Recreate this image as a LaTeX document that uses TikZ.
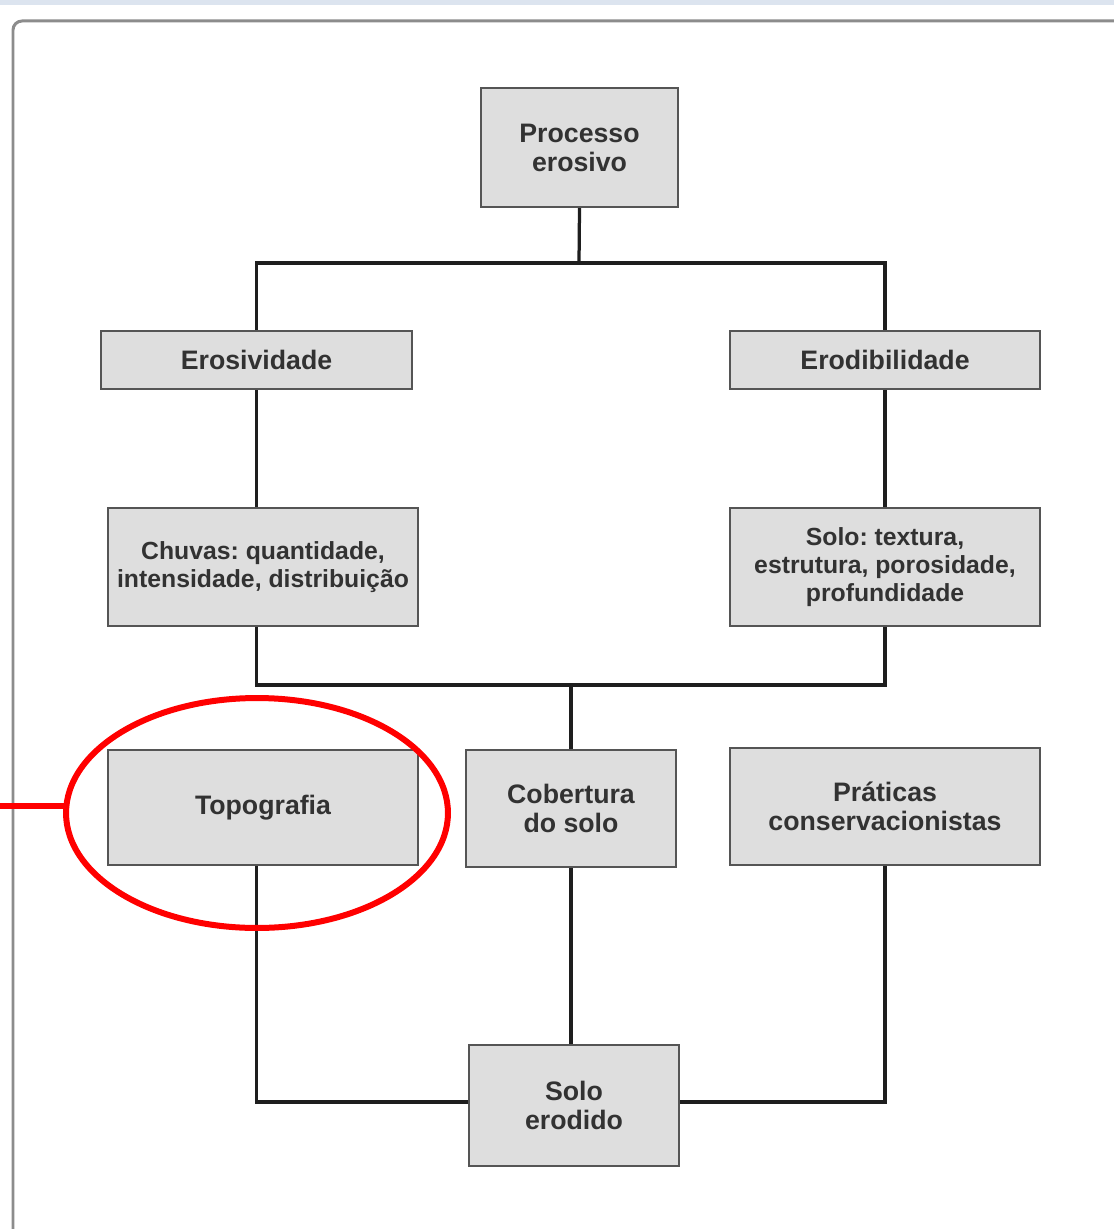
\documentclass[tikz,border=0pt]{standalone}
\usepackage{fontspec}
\setmainfont{Liberation Sans}
\frenchspacing
\definecolor{boxborder}{RGB}{85,85,85}
\definecolor{boxfill}{RGB}{222,222,222}
\definecolor{boxtext}{RGB}{50,50,50}
\definecolor{connc}{RGB}{30,30,30}
\definecolor{framec}{RGB}{140,140,140}
\definecolor{bandc}{RGB}{220,228,239}
\begin{document}
\begin{tikzpicture}[x=0.02cm,y=-0.02cm,
  box/.style={draw=boxborder, line width=0.045cm, fill=boxfill,
    text=boxtext, font=\bfseries\fontsize{15.2}{16.5}\selectfont, align=center, inner sep=0pt},
  smalltext/.style={font=\bfseries\fontsize{14.1}{15.8}\selectfont},
  conn/.style={draw=connc, line width=0.065cm},
  frame/.style={draw=framec, line width=0.06cm, rounded corners=0.18cm}]
\useasboundingbox (0,0) rectangle (1114,1229);
\clip (0,0) rectangle (1114,1229);
\fill[bandc] (0,0) rectangle (1114,5);
\draw[frame] (13,1240) -- (13,21) -- (1130,21);

\node[box, minimum width=3.94cm, minimum height=2.38cm] (proc) at (579.5,147.5) {Processo\\erosivo};
\node[box, minimum width=6.22cm, minimum height=1.16cm] (eros) at (256.5,360) {Erosividade};
\node[box, minimum width=6.2cm, minimum height=1.16cm] (erod) at (885,360) {Erodibilidade};
\node[box, smalltext, minimum width=6.2cm, minimum height=2.36cm] (chuv) at (263,567) {Chuvas: quantidade,\\intensidade, distribuição};
\node[box, smalltext, minimum width=6.2cm, minimum height=2.36cm] (solo) at (885,567) {Solo: textura,\\estrutura, porosidade,\\profundidade};
\node[box, minimum width=6.2cm, minimum height=2.3cm] (topo) at (263,807.5) {Topografia};
\node[box, minimum width=4.2cm, minimum height=2.34cm] (cob) at (571,808.5) {Cobertura\\do solo};
\node[box, minimum width=6.2cm, minimum height=2.34cm] (prat) at (885,806.5) {Práticas\\conservacionistas};
\node[box, minimum width=4.2cm, minimum height=2.42cm] (sed) at (574,1105.5) {Solo\\erodido};

\coordinate (top) at (579,263);
\coordinate (mid) at (571,685);
\coordinate (bot) at (571,1102);

\draw[conn] (proc.south) -- (top);
\draw[conn] (eros.north) |- (top) -| (erod.north);
\draw[conn] (eros.south) -- (eros.south |- chuv.north);
\draw[conn] (erod.south) -- (solo.north);
\draw[conn] (chuv.south -| eros) |- (mid) -| (solo.south);
\draw[conn] (mid) -- (cob.north);
\draw[conn] (topo.south -| eros) |- (bot -| sed.west);
\draw[conn] (prat.south) |- (bot -| sed.east);
\draw[conn] (cob.south) -- (cob.south |- sed.north);

\draw[red, line width=0.12cm] (257,813) ellipse [x radius=3.82cm, y radius=2.3cm];
\coordinate (redend) at (0,806);
\draw[red, line width=0.12cm] (redend) -- (66,806);
\end{tikzpicture}
\end{document}
